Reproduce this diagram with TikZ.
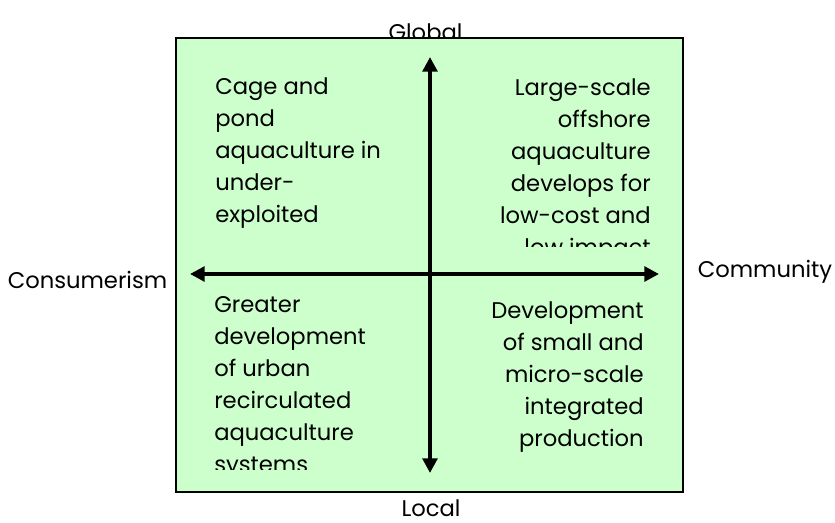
\documentclass[tikz,border=0pt]{standalone}
\usepackage{fontspec}
\setmainfont{Poppins}
\usetikzlibrary{arrows.meta}
\definecolor{boxgreen}{RGB}{204,255,204}
\newcommand{\quadfont}{\fontsize{17}{24}\selectfont}
\begin{document}
\begin{tikzpicture}[x=0.75pt,y=-0.75pt,
  lab/.style={inner sep=0pt, font=\quadfont},
  quad/.style={inner sep=0pt},
  axisline/.style={line width=3pt, {Triangle[length=11pt,width=11pt]}-{Triangle[length=11pt,width=11pt]}},
  frame/.style={draw=black, line width=1.1pt, fill=boxgreen}]
\useasboundingbox (0,0) rectangle (835,522);
% outer labels
\node[lab,anchor=base] (global) at (425.5,40) {Global};
\node[lab,anchor=base] (local) at (431,516) {Local};
\node[lab,anchor=base] (cons) at (87.5,288) {Consumerism};
\node[lab,anchor=base] (comm) at (765,277) {Community};
% box
\draw[frame] (176,38) rectangle (683,492);
% quadrant texts
\begin{scope}
\clip (200,60) rectangle (420,240);
\node[quad,anchor=base west] (tl) at (215,94) {\parbox[t]{220pt}{\quadfont\raggedright Cage and\\pond\\aquaculture in\\under-\\exploited}};
\end{scope}
\begin{scope}
\clip (440,60) rectangle (670,246.7);
\node[quad,anchor=base east] (tr) at (651,95) {\parbox[t]{220pt}{\quadfont\raggedleft Large-scale\\offshore\\aquaculture\\develops for\\low-cost and\\low impact}};
\end{scope}
\begin{scope}
\clip (200,285) rectangle (420,469);
\node[quad,anchor=base west] (bl) at (214,312) {\parbox[t]{220pt}{\quadfont\raggedright Greater\\development\\of urban\\recirculated\\aquaculture\\systems}};
\end{scope}
\begin{scope}
\clip (440,285) rectangle (670,462);
\node[quad,anchor=base east] (br) at (644,318) {\parbox[t]{220pt}{\quadfont\raggedleft Development\\of small and\\micro-scale\\integrated\\production}};
\end{scope}
% axes
\coordinate (top) at (430,57);
\coordinate (bot) at (430,473);
\coordinate (left) at (190,274);
\coordinate (right) at (659,274);
\draw[axisline] (bot) -- (top);
\draw[axisline] (left) -- (right);
\end{tikzpicture}
\end{document}
